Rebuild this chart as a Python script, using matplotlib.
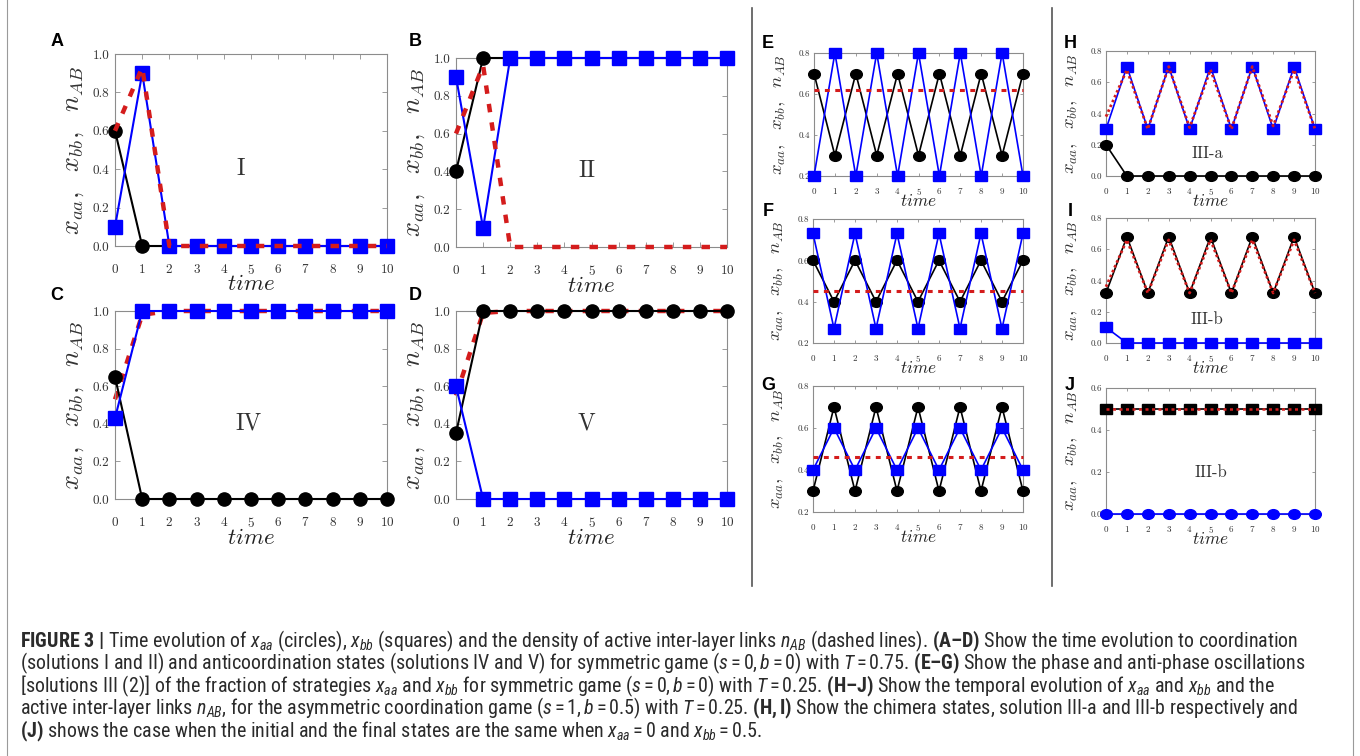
import matplotlib
matplotlib.use("Agg")
import matplotlib.pyplot as plt
from matplotlib import font_manager as fm
from matplotlib.markers import MarkerStyle
from matplotlib.transforms import Affine2D
from matplotlib.lines import Line2D
from matplotlib.ticker import FormatStrFormatter

W, H = 1360, 756

# ── data: x_aa (circles), x_bb (squares), n_AB (dashed) per panel ─────
TIME = [0, 1, 2, 3, 4, 5, 6, 7, 8, 9, 10]

A_XAA = [0.60, 0.00, 0.00, 0.00, 0.00, 0.00, 0.00, 0.00, 0.00, 0.00, 0.00]
A_XBB = [0.10, 0.90, 0.00, 0.00, 0.00, 0.00, 0.00, 0.00, 0.00, 0.00, 0.00]
A_NAB = [0.60, 0.93, 0.00, 0.00, 0.00, 0.00, 0.00, 0.00, 0.00, 0.00, 0.00]

B_XAA = [0.40, 1.00, 1.00, 1.00, 1.00, 1.00, 1.00, 1.00, 1.00, 1.00, 1.00]
B_XBB = [0.90, 0.10, 1.00, 1.00, 1.00, 1.00, 1.00, 1.00, 1.00, 1.00, 1.00]
B_NAB = [0.60, 0.96, 0.00, 0.00, 0.00, 0.00, 0.00, 0.00, 0.00, 0.00, 0.00]

C_XAA = [0.65, 0.00, 0.00, 0.00, 0.00, 0.00, 0.00, 0.00, 0.00, 0.00, 0.00]
C_XBB = [0.43, 1.00, 1.00, 1.00, 1.00, 1.00, 1.00, 1.00, 1.00, 1.00, 1.00]
C_NAB = [0.53, 0.98, 1.00, 1.00, 1.00, 1.00, 1.00, 1.00, 1.00, 1.00, 1.00]

D_XAA = [0.35, 1.00, 1.00, 1.00, 1.00, 1.00, 1.00, 1.00, 1.00, 1.00, 1.00]
D_XBB = [0.60, 0.00, 0.00, 0.00, 0.00, 0.00, 0.00, 0.00, 0.00, 0.00, 0.00]
D_NAB = [0.55, 0.99, 1.00, 1.00, 1.00, 1.00, 1.00, 1.00, 1.00, 1.00, 1.00]

E_XAA = [0.70, 0.30, 0.70, 0.30, 0.70, 0.30, 0.70, 0.30, 0.70, 0.30, 0.70]
E_XBB = [0.20, 0.80, 0.20, 0.80, 0.20, 0.80, 0.20, 0.80, 0.20, 0.80, 0.20]
E_NAB = [0.62, 0.62, 0.62, 0.62, 0.62, 0.62, 0.62, 0.62, 0.62, 0.62, 0.62]

F_XAA = [0.60, 0.40, 0.60, 0.40, 0.60, 0.40, 0.60, 0.40, 0.60, 0.40, 0.60]
F_XBB = [0.73, 0.27, 0.73, 0.27, 0.73, 0.27, 0.73, 0.27, 0.73, 0.27, 0.73]
F_NAB = [0.45, 0.45, 0.45, 0.45, 0.45, 0.45, 0.45, 0.45, 0.45, 0.45, 0.45]

G_XAA = [0.30, 0.70, 0.30, 0.70, 0.30, 0.70, 0.30, 0.70, 0.30, 0.70, 0.30]
G_XBB = [0.40, 0.60, 0.40, 0.60, 0.40, 0.60, 0.40, 0.60, 0.40, 0.60, 0.40]
G_NAB = [0.46, 0.46, 0.46, 0.46, 0.46, 0.46, 0.46, 0.46, 0.46, 0.46, 0.46]

H_XAA = [0.20, 0.00, 0.00, 0.00, 0.00, 0.00, 0.00, 0.00, 0.00, 0.00, 0.00]
H_XBB = [0.30, 0.70, 0.30, 0.70, 0.30, 0.70, 0.30, 0.70, 0.30, 0.70, 0.30]
H_NAB = [0.38, 0.68, 0.30, 0.70, 0.31, 0.68, 0.30, 0.70, 0.32, 0.68, 0.30]

I_XAA = [0.32, 0.68, 0.32, 0.68, 0.32, 0.68, 0.32, 0.68, 0.32, 0.68, 0.32]
I_XBB = [0.10, 0.00, 0.00, 0.00, 0.00, 0.00, 0.00, 0.00, 0.00, 0.00, 0.00]
I_NAB = [0.36, 0.66, 0.32, 0.66, 0.32, 0.66, 0.32, 0.66, 0.32, 0.66, 0.32]

J_XAA = [0.00, 0.00, 0.00, 0.00, 0.00, 0.00, 0.00, 0.00, 0.00, 0.00, 0.00]
J_XBB = [0.50, 0.50, 0.50, 0.50, 0.50, 0.50, 0.50, 0.50, 0.50, 0.50, 0.50]
J_NAB = [0.50, 0.50, 0.50, 0.50, 0.50, 0.50, 0.50, 0.50, 0.50, 0.50, 0.50]

YT_BIG = [0.0, 0.2, 0.4, 0.6, 0.8, 1.0]
YT_OSC = [0.2, 0.4, 0.6, 0.8]
YT_CHI = [0.0, 0.2, 0.4, 0.6, 0.8]
YT_J = [0.0, 0.2, 0.4, 0.6]

CAPTION = [
    r"$\mathbf{FIGURE\ 3\ |}$ Time evolution of $x_{aa}$ (circles), $x_{bb}$ (squares) and the density of active inter-layer links $n_{AB}$ (dashed lines). $\mathbf{(A–D)}$ Show the time evolution to coordination",
    r"(solutions I and II) and anticoordination states (solutions IV and V) for symmetric game ($s=0,b=0$) with $T=0.75$. $\mathbf{(E–G)}$ Show the phase and anti-phase oscillations",
    r"[solutions III (2)] of the fraction of strategies $x_{aa}$ and $x_{bb}$ for symmetric game ($s=0,b=0$) with $T=0.25$. $\mathbf{(H–J)}$ Show the temporal evolution of $x_{aa}$ and $x_{bb}$ and the",
    r"active inter-layer links $n_{AB}$, for the asymmetric coordination game ($s=1,b=0.5$) with $T=0.25$. $\mathbf{(H,I)}$ Show the chimera states, solution III-a and III-b respectively and",
    r"$\mathbf{(J)}$ shows the case when the initial and the final states are the same when $x_{aa}=0$ and $x_{bb}=0.5$.",
]


def pick_font(names):
    for name in names:
        try:
            fm.findfont(fm.FontProperties(family=name), fallback_to_default=False)
            return name
        except ValueError:
            pass
    return "DejaVu Sans"


CAP_FONT = pick_font(["Liberation Sans Narrow", "Roboto Condensed", "Liberation Sans"])
plt.rcParams.update({
    "mathtext.fontset": "custom",
    "mathtext.rm": CAP_FONT,
    "mathtext.it": CAP_FONT + ":italic",
    "mathtext.bf": CAP_FONT + ":bold",
    "axes.formatter.use_mathtext": True,
})

RED = "#d41c1c"
BLUE = "#0000ff"
SPINE = "#8c8c8c"

BIG = dict(lw=1.5, ms=9.5, c_scale=1.0, s_scale=1.0, tick_fs=9.5, ylab_fs=19, time_fs=16.5,
           roman_fs=17, ylab_dx=-42, time_dy=38, xpad=12, ypad=4, ticklen=3.5)
SMALL = dict(lw=1.2, ms=7.0, c_scale=1.2, s_scale=1.12, tick_fs=6.5, ylab_fs=13.5, time_fs=12.5,
             roman_fs=12, ylab_dx=-36, time_dy=25, xpad=7, ypad=3, ticklen=2.5)

RED_BIG = dict(lw=3.2, dashes=(1.9, 2.3))
RED_OSC = dict(lw=2.2, dashes=(1.6, 1.8))
RED_CHI = dict(lw=2.0, dashes=(0.9, 1.0))
RED_J = dict(lw=1.8, dashes=(1.2, 1.4))

PANELS = [
    dict(letter="A", lpos=(57, 42), box=(115, 54, 387, 246), data=(A_XAA, A_XBB, A_NAB),
         style=BIG, red=RED_BIG, red_top=True, ylim=(0, 1), yticks=YT_BIG,
         roman="I", rpos=(0.463, 0.40), colors=("black", BLUE)),
    dict(letter="B", lpos=(415, 42), box=(456, 58, 727, 247), data=(B_XAA, B_XBB, B_NAB),
         style=BIG, red=RED_BIG, red_top=True, ylim=(0, 1), yticks=YT_BIG,
         roman="II", rpos=(0.483, 0.40), colors=("black", BLUE)),
    dict(letter="C", lpos=(57, 295), box=(115, 311, 387, 499), data=(C_XAA, C_XBB, C_NAB),
         style=BIG, red=RED_BIG, red_top=False, ylim=(0, 1), yticks=YT_BIG,
         roman="IV", rpos=(0.49, 0.40), colors=("black", BLUE)),
    dict(letter="D", lpos=(415, 295), box=(456, 311, 727, 499), data=(D_XAA, D_XBB, D_NAB),
         style=BIG, red=RED_BIG, red_top=False, ylim=(0, 1), yticks=YT_BIG,
         roman="V", rpos=(0.483, 0.40), colors=("black", BLUE)),
    dict(letter="E", lpos=(768, 43), box=(814, 53, 1023, 176), data=(E_XAA, E_XBB, E_NAB),
         style=SMALL, red=RED_OSC, red_top=True, ylim=(0.2, 0.8), yticks=YT_OSC,
         roman=None, rpos=None, colors=("black", BLUE)),
    dict(letter="F", lpos=(768, 212), box=(813, 219, 1023, 343), data=(F_XAA, F_XBB, F_NAB),
         style=SMALL, red=RED_OSC, red_top=True, ylim=(0.2, 0.8), yticks=YT_OSC,
         roman=None, rpos=None, colors=("black", BLUE)),
    dict(letter="G", lpos=(768, 385), box=(813, 386, 1023, 512), data=(G_XAA, G_XBB, G_NAB),
         style=SMALL, red=RED_OSC, red_top=True, ylim=(0.2, 0.8), yticks=YT_OSC,
         roman=None, rpos=None, colors=("black", BLUE)),
    dict(letter="H", lpos=(1070, 43), box=(1106, 51, 1315, 176), data=(H_XAA, H_XBB, H_NAB),
         style=SMALL, red=RED_CHI, red_top=True, ylim=(0, 0.8), yticks=YT_CHI,
         roman="III-a", rpos=(0.483, 0.184), colors=("black", BLUE)),
    dict(letter="I", lpos=(1070, 212), box=(1106, 218, 1315, 343), data=(I_XAA, I_XBB, I_NAB),
         style=SMALL, red=RED_CHI, red_top=True, ylim=(0, 0.8), yticks=YT_CHI,
         roman="III-b", rpos=(0.483, 0.192), colors=("black", BLUE)),
    dict(letter="J", lpos=(1070, 385), box=(1106, 388, 1315, 514), data=(J_XAA, J_XBB, J_NAB),
         style=SMALL, red=RED_J, red_top=True, ylim=(0, 0.6), yticks=YT_J,
         roman="III-b", rpos=(0.50, 0.333), colors=(BLUE, "black")),
]


def fig_box(l, t, r, b):
    return [l / W, 1 - b / H, (r - l) / W, (b - t) / H]


def draw_panel(fig, p):
    st = p["style"]
    l, t, r, b = p["box"]
    ax = fig.add_axes(fig_box(l, t, r, b))
    xaa, xbb, nab = p["data"]
    c_col, s_col = p["colors"]

    circ = MarkerStyle("o", transform=Affine2D().scale(st["c_scale"], 1.0))
    sqr = MarkerStyle("s", transform=Affine2D().scale(st["s_scale"], 1.0))

    red_z = 6 if p["red_top"] else 2.5
    ax.plot(TIME, xaa, color=c_col, lw=st["lw"], marker=circ, ms=st["ms"],
            mec=c_col, mfc=c_col, zorder=3, clip_on=False)
    ax.plot(TIME, xbb, color=s_col, lw=st["lw"], marker=sqr, ms=st["ms"] + 0.3,
            mec=s_col, mfc=s_col, zorder=4, clip_on=False)
    ax.plot(TIME, nab, color=RED, lw=p["red"]["lw"], dashes=p["red"]["dashes"],
            dash_capstyle="butt", zorder=red_z, clip_on=False)

    ax.set_xlim(0, 10)
    ax.set_ylim(*p["ylim"])
    ax.set_xticks(TIME)
    ax.set_yticks(p["yticks"])
    ax.yaxis.set_major_formatter(FormatStrFormatter("%.1f"))
    ax.tick_params(direction="in", top=True, right=True, length=st["ticklen"],
                   width=0.6, color=SPINE, labelcolor="#333333", labelsize=st["tick_fs"])
    ax.tick_params(axis="x", pad=st["xpad"])
    ax.tick_params(axis="y", pad=st["ypad"])
    for lab in ax.get_xticklabels() + ax.get_yticklabels():
        lab.set_fontfamily("cmr10")
    for sp in ax.spines.values():
        sp.set_color(SPINE)
        sp.set_linewidth(0.8)

    w_px, h_px = r - l, b - t
    ax.text(st["ylab_dx"] / w_px, 0.5, r"$x_{aa},\ \ x_{bb},\ \ n_{AB}$",
            transform=ax.transAxes, rotation=90, ha="center", va="center",
            fontsize=st["ylab_fs"], color="#333333", math_fontfamily="cm")
    ax.text(0.5, -st["time_dy"] / h_px, r"$time$", transform=ax.transAxes,
            ha="center", va="center", fontsize=st["time_fs"], color="#222222",
            math_fontfamily="cm")
    if p["roman"]:
        ax.text(*p["rpos"], p["roman"], transform=ax.transAxes, ha="center", va="center",
                fontsize=st["roman_fs"], family="cmr10", color="#333333")

    lx, ly = p["lpos"]
    fig.text(lx / W, 1 - ly / H, p["letter"], ha="center", va="center",
             fontsize=13, fontweight="bold", family="Liberation Sans")
    return ax


fig = plt.figure(figsize=(W / 100, H / 100), dpi=100)

for p in PANELS:
    draw_panel(fig, p)

# column separators and outer frame
for x in (752, 1052):
    fig.add_artist(Line2D([x / W, x / W], [1 - 8 / H, 1 - 586 / H],
                          transform=fig.transFigure, color="#555555", lw=1.2))
for x in (7, 1353):
    fig.add_artist(Line2D([x / W, x / W], [0, 1],
                          transform=fig.transFigure, color="#9a9a9a", lw=0.8))

# caption
for i, line in enumerate(CAPTION):
    y = 647 + 22.5 * i
    fig.text(20 / W, 1 - y / H, line, ha="left", va="baseline", fontsize=14.4,
             family=CAP_FONT, color="#2b2b2b")

fig.savefig("out.png", dpi=100)
